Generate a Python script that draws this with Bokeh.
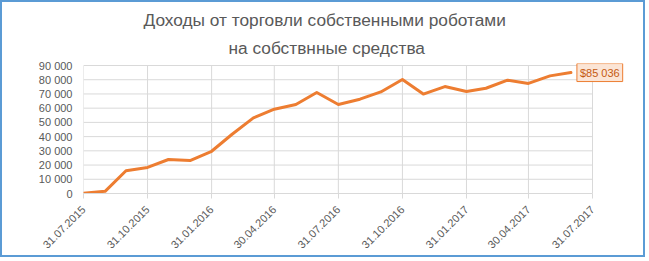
from math import pi
import pandas as pd
from bokeh.plotting import figure
from bokeh.models import Range1d, FixedTicker, DatetimeTickFormatter, Label, Title
from bokeh.embed import file_html
from bokeh.resources import INLINE

title_lines = ["Доходы от торговли собственными роботами", "на собствнные средства"]
dates = ["2015-07-31", "2015-08-31", "2015-09-30", "2015-10-31", "2015-11-30", "2015-12-31",
         "2016-01-31", "2016-02-29", "2016-03-31", "2016-04-30", "2016-05-31", "2016-06-30",
         "2016-07-31", "2016-08-31", "2016-09-30", "2016-10-31", "2016-11-30", "2016-12-31",
         "2017-01-31", "2017-02-28", "2017-03-31", "2017-04-30", "2017-05-31", "2017-06-30"]
values = [200, 1500, 16000, 18300, 23900, 23200, 29700, 41500, 53200, 59300, 62600, 71000,
          62600, 66300, 71400, 80200, 69900, 75200, 71700, 74000, 79700, 77400, 82700, 85036]
tick_dates = ["2015-07-31", "2015-10-31", "2016-01-31", "2016-04-30", "2016-07-31",
              "2016-10-31", "2017-01-31", "2017-04-30", "2017-07-31"]
y_ticks = [0, 10000, 20000, 30000, 40000, 50000, 60000, 70000, 80000, 90000]
last_label = "$85 036"

x = pd.to_datetime(dates)
tick_ms = [pd.Timestamp(d).value / 1e6 for d in tick_dates]

# layout (canvas px; a 2px CSS border surrounds the canvas)
W, H = 645, 257
FL, FT, FB = 81, 61, 66
axis_px = 509                 # pixels from first to last date tick
frame_w = W - FL              # frame runs to the right edge (room for the value box)
span = tick_ms[-1] - tick_ms[0]
x_end = tick_ms[0] + span * frame_w / axis_px
frame_h = H - FT - FB
y_top = y_ticks[-1] * frame_h / (frame_h - 2)

p = figure(width=W, height=H, x_axis_type="datetime", output_backend="svg",
           toolbar_location=None, min_border_left=FL, min_border_right=0,
           min_border_top=FT, min_border_bottom=FB,
           x_range=Range1d(tick_ms[0], x_end), y_range=Range1d(0, y_top),
           styles={"border": "2px solid #5B9BD5"})
p.outline_line_color = None
p.background_fill_color = "white"
p.border_fill_color = "white"
p.grid.visible = False

grid_c = "#D9D9D9"
lab_c = "#595959"
font = "Liberation Sans"

p.xaxis.ticker = FixedTicker(ticks=tick_ms)
p.xaxis.bounds = (tick_ms[0], tick_ms[-1])
fmt = "%d.%m.%Y"
p.xaxis.formatter = DatetimeTickFormatter(milliseconds=fmt, seconds=fmt, minsec=fmt, minutes=fmt,
                                          hourmin=fmt, hours=fmt, days=fmt, months=fmt, years=fmt)
p.xaxis.major_label_orientation = pi / 4
p.xaxis.axis_line_color = grid_c
p.xaxis.major_tick_line_color = grid_c
p.xaxis.major_tick_out = 5
p.xaxis.major_tick_in = 0
p.xaxis.minor_tick_line_color = None
p.xaxis.major_label_text_color = lab_c
p.xaxis.major_label_text_font = font
p.xaxis.major_label_text_font_size = "11px"
p.xaxis.major_label_standoff = 9

p.yaxis.ticker = FixedTicker(ticks=y_ticks)
p.yaxis.major_label_overrides = {t: f"{t:,}".replace(",", " ") for t in y_ticks}
p.yaxis.axis_line_color = None
p.yaxis.major_tick_line_color = None
p.yaxis.minor_tick_line_color = None
p.yaxis.major_label_text_color = lab_c
p.yaxis.major_label_text_font = font
p.yaxis.major_label_text_font_size = "11px"
p.yaxis.major_label_standoff = 5

# gridlines limited to the axis extent
p.segment(x0=tick_ms, y0=0, x1=tick_ms, y1=y_ticks[-1], line_color=grid_c, line_width=1)
p.segment(x0=tick_ms[0], y0=y_ticks[1:], x1=tick_ms[-1], y1=y_ticks[1:], line_color=grid_c, line_width=1)

p.line(x, values, line_color="#ED7D31", line_width=3, line_join="round", line_cap="round")

p.add_layout(Label(x=x[-1], y=values[-1], text=last_label, x_offset=6, y_offset=0,
                   text_baseline="middle", text_align="left", text_font=font,
                   text_font_size="11px", text_color="#C55A11",
                   background_fill_color="#FBE5D6", border_line_color="#ED7D31",
                   border_line_width=1, padding=3))

p.add_layout(Title(text=title_lines[1], align="left", offset=145, text_font=font,
                   text_font_size="17.3px", text_font_style="normal", text_color=lab_c,
                   standoff=12), "above")
p.add_layout(Title(text=title_lines[0], align="left", offset=60, text_font=font,
                   text_font_size="17.3px", text_font_style="normal", text_color=lab_c,
                   standoff=0), "above")

open("out.html", "w").write(file_html(p, INLINE))
